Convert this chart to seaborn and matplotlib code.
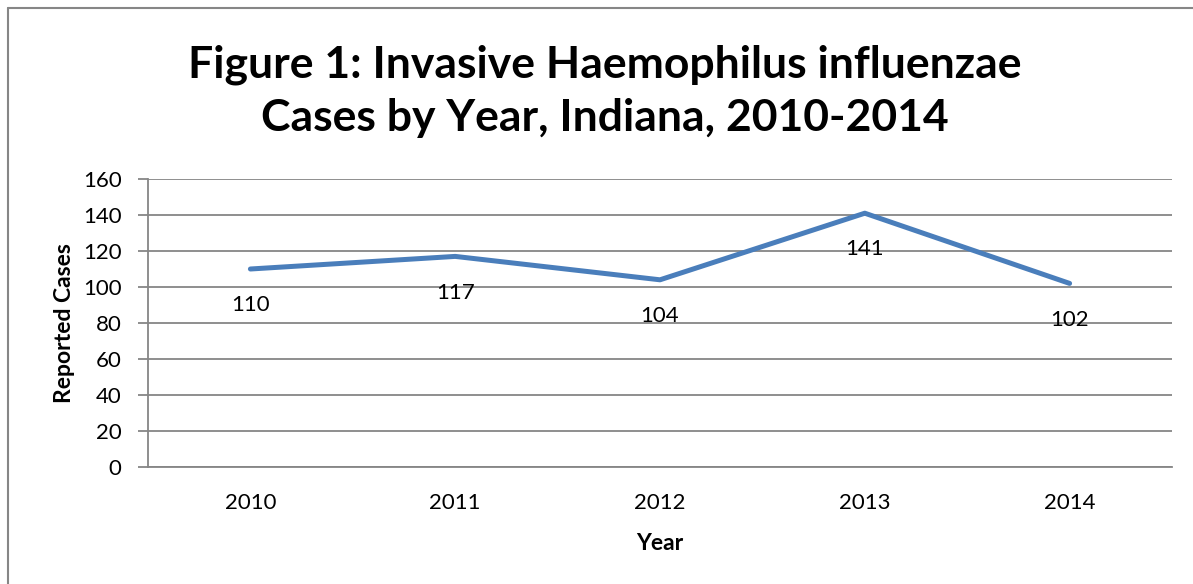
"""Invasive Haemophilus influenzae cases by year, Indiana 2010-2014."""

import matplotlib
matplotlib.use("Agg")
import matplotlib.pyplot as plt
import pandas as pd
import seaborn as sns
from matplotlib.lines import Line2D
from matplotlib.ticker import FixedLocator, MultipleLocator

years = ["2010", "2011", "2012", "2013", "2014"]
cases = [110, 117, 104, 141, 102]
title = "Figure 1: Invasive Haemophilus influenzae\nCases by Year, Indiana, 2010-2014"

sns.set_theme(style="white")
plt.rcParams["font.family"] = ["Lato", "DejaVu Sans"]
plt.rcParams["text.color"] = "black"
plt.rcParams["xtick.color"] = "black"
plt.rcParams["ytick.color"] = "black"
plt.rcParams["axes.labelcolor"] = "black"

df = pd.DataFrame({"Year": years, "Cases": cases})

fig = plt.figure(figsize=(11.93, 5.84), dpi=100)
ax = fig.add_axes([148 / 1193, 117 / 584, 1024 / 1193, 288 / 584])

grid_col = "#868686"
sns.lineplot(data=df, x="Year", y="Cases", ax=ax, color="#4A7EBB", linewidth=3.6,
             solid_capstyle="round", zorder=3)

for i, v in enumerate(df["Cases"]):
    ax.annotate(str(v), (i, v), xytext=(0, -26), textcoords="offset points",
                ha="center", va="center", fontsize=16, color="black", zorder=4)

ax.set_xlim(-0.5, len(years) - 0.5)
ax.set_ylim(0, 160)
ax.yaxis.set_major_locator(MultipleLocator(20))
ax.yaxis.grid(True, color=grid_col, linewidth=1.3)
ax.set_axisbelow(True)

# category boundaries as major ticks, labels on minor ticks
ax.xaxis.set_major_locator(FixedLocator([i - 0.5 for i in range(len(years) + 1)]))
ax.xaxis.set_minor_locator(FixedLocator(range(len(years))))
ax.set_xticklabels([], minor=False)
ax.set_xticklabels(years, minor=True)
ax.tick_params(axis="x", which="major", direction="out", length=7, width=1.3, color=grid_col)
ax.tick_params(axis="x", which="minor", length=0, pad=19, labelsize=16)
ax.tick_params(axis="y", direction="out", length=7, width=1.3, color=grid_col,
               pad=12, labelsize=16, left=True)

for side in ["top", "right"]:
    ax.spines[side].set_visible(False)
for side in ["left", "bottom"]:
    ax.spines[side].set_color(grid_col)
    ax.spines[side].set_linewidth(1.3)

ax.set_xlabel("Year", fontsize=16.5, fontweight="bold", labelpad=14)
ax.set_ylabel("Reported Cases", fontsize=16.5, fontweight="bold", labelpad=6)

fig.text(605 / 1193, 1 - 91 / 584, title, ha="center", va="center",
         fontsize=32, fontweight="bold", linespacing=1.4, color="black")

# outer chart border (top and left edges visible in the crop)
fig.add_artist(Line2D([8 / 1193, 8 / 1193], [0, 1 - 8 / 584], transform=fig.transFigure,
                      color=grid_col, linewidth=1.5))
fig.add_artist(Line2D([8 / 1193, 1], [1 - 8 / 584, 1 - 8 / 584], transform=fig.transFigure,
                      color=grid_col, linewidth=1.5))

fig.savefig("out.png", dpi=100)
plt.close(fig)
